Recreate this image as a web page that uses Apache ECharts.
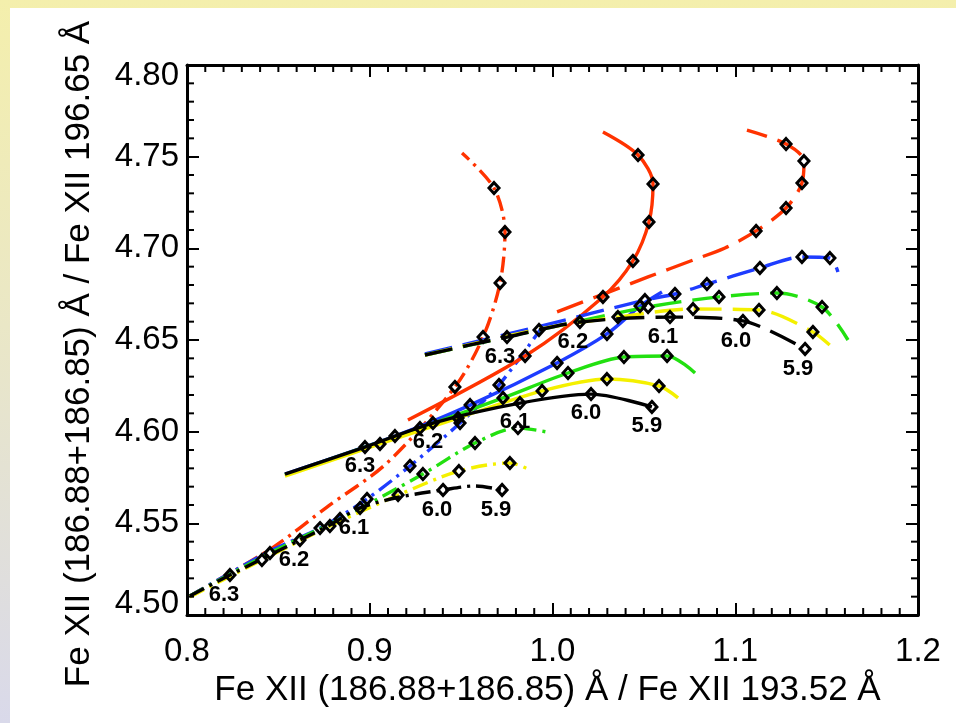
<!DOCTYPE html>
<html>
<head>
<meta charset="utf-8">
<script src="https://cdn.jsdelivr.net/npm/echarts@6/dist/echarts.min.js"></script>
<style>
  html, body { margin: 0; padding: 0; width: 956px; height: 723px; overflow: hidden; }
  body { background: linear-gradient(to bottom, #f4efac 0%, #eae7c6 45%, #d9d9ea 100%); position: relative; }
  #paper { position: absolute; left: 10px; top: 8px; right: 0; bottom: 0; background: #ffffff; }
  #chart { position: absolute; left: 0; top: 0; width: 956px; height: 723px; }
</style>
</head>
<body>
<div id="paper"></div>
<div id="chart"></div>
<script>
// Axis ranges and tick labels
const xTicks = [0.8, 0.9, 1.0, 1.1, 1.2];
const yTicks = [4.50, 4.55, 4.60, 4.65, 4.70, 4.75, 4.80];
const xMinorStep = 0.01;
const yMinorStep = 0.01;

// Temperature (log T) labels attached to the markers of the black curves
const logT = ['6.3', '6.2', '6.1', '6.0', '5.9'];

// Each point: [ratio 186/193, ratio 186/196, marker flag]
// Dash-dot family
const dashDotRed = [
  [0.8016, 4.5104, 0], [0.8465, 4.5365, 0], [0.8766, 4.5589, 0], [0.9094, 4.5829, 0],
  [0.9466, 4.6244, 1], [0.9620, 4.6516, 1], [0.9713, 4.6811, 1], [0.9740, 4.7089, 1],
  [0.9680, 4.7329, 1], [0.9505, 4.7520, 0]
];
const dashDotBlue = [
  [0.8016, 4.5104, 0], [0.8454, 4.5349, 0], [0.8728, 4.5474, 1], [0.8985, 4.5633, 1],
  [0.9220, 4.5813, 1], [0.9494, 4.6047, 1], [0.9707, 4.6255, 1], [0.9932, 4.6555, 0]
];
const dashDotGreen = [
  [0.8016, 4.5104, 0], [0.8454, 4.5338, 1], [0.8837, 4.5524, 1], [0.9291, 4.5769, 1],
  [0.9576, 4.5938, 1], [0.9811, 4.6020, 1], [0.9970, 4.5998, 0]
];
const dashDotYellow = [
  [0.8016, 4.5098, 0], [0.8410, 4.5300, 1], [0.8782, 4.5485, 1], [0.9155, 4.5654, 1],
  [0.9488, 4.5785, 1], [0.9767, 4.5829, 1], [0.9877, 4.5791, 0]
];
const dashDotBlack = [
  [0.8016, 4.5104, 0], [0.8235, 4.5218, 1], [0.8399, 4.5300, 0], [0.8618, 4.5409, 1],
  [0.8782, 4.5491, 0], [0.8947, 4.5584, 1], [0.9166, 4.5644, 0], [0.9401, 4.5682, 1],
  [0.9576, 4.5704, 0], [0.9724, 4.5682, 1]
];

// Solid family
const solidRed = [
  [0.9209, 4.6064, 0], [0.9850, 4.6413, 1], [1.0276, 4.6735, 1], [1.0440, 4.6931, 1],
  [1.0528, 4.7144, 1], [1.0550, 4.7351, 1], [1.0468, 4.7509, 1], [1.0276, 4.7635, 0]
];
const solidBlue = [
  [0.8536, 4.5769, 0], [0.9138, 4.5976, 1], [0.9549, 4.6145, 1], [1.0025, 4.6375, 1],
  [1.0298, 4.6533, 1], [1.0479, 4.6685, 1], [1.0599, 4.6762, 0]
];
const solidGreen = [
  [0.8536, 4.5764, 0], [0.9275, 4.6020, 1], [0.9729, 4.6184, 1], [1.0085, 4.6320, 1],
  [1.0391, 4.6407, 1], [1.0627, 4.6413, 1], [1.0780, 4.6320, 0]
];
const solidYellow = [
  [0.8536, 4.5758, 0], [0.9056, 4.5933, 1], [0.9483, 4.6074, 1], [0.9943, 4.6222, 1],
  [1.0298, 4.6287, 1], [1.0583, 4.6249, 1], [1.0687, 4.6184, 0]
];
const solidBlack = [
  [0.8536, 4.5769, 0], [0.8974, 4.5916, 1], [0.9346, 4.6047, 1], [0.9822, 4.6156, 1],
  [1.0211, 4.6205, 1], [1.0544, 4.6135, 1]
];

// Dashed family
const dashedRed = [
  [1.0025, 4.6653, 0], [1.0523, 4.6844, 0], [1.0769, 4.6936, 0], [1.0944, 4.7002, 0],
  [1.1114, 4.7095, 1], [1.1278, 4.7220, 1], [1.1365, 4.7356, 1], [1.1376, 4.7476, 1],
  [1.1278, 4.7569, 1], [1.1064, 4.7645, 0]
];
const dashedBlue = [
  [0.9302, 4.6424, 0], [0.9915, 4.6571, 0], [1.0506, 4.6718, 1], [1.0670, 4.6751, 1],
  [1.0845, 4.6805, 1], [1.1135, 4.6893, 1], [1.1365, 4.6953, 1], [1.1518, 4.6947, 1],
  [1.1562, 4.6871, 0]
];
const dashedGreen = [
  [0.9302, 4.6418, 0], [0.9926, 4.6555, 1], [1.0523, 4.6680, 1], [1.0911, 4.6735, 1],
  [1.1228, 4.6756, 1], [1.1475, 4.6680, 1], [1.1617, 4.6500, 0]
];
const dashedYellow = [
  [0.9302, 4.6418, 0], [0.9932, 4.6560, 0], [1.0358, 4.6625, 1], [1.0769, 4.6669, 1],
  [1.1130, 4.6664, 1], [1.1425, 4.6544, 1], [1.1546, 4.6445, 0]
];
const dashedBlack = [
  [0.9302, 4.6418, 0], [0.9549, 4.6473, 0], [0.9751, 4.6516, 1], [1.0150, 4.6598, 1],
  [1.0643, 4.6625, 1], [1.1042, 4.6604, 1], [1.1382, 4.6451, 1]
];

const COLORS = { red: '#ff3300', blue: '#1e3cff', green: '#22e010', yellow: '#f4f000', black: '#000000' };
const DASH = { dashDot: [16, 6, 3, 6], solid: 'solid', dashed: [28, 11] };
const FONT = '"Liberation Sans", Arial, Helvetica, sans-serif';
const CLEAR = 'rgba(0,0,0,0)';

const xMin = xTicks[0], xMax = xTicks[xTicks.length - 1];
const yMin = yTicks[0], yMax = yTicks[yTicks.length - 1];

const families = [
  { dash: DASH.dashDot, offset: [-6, 20], curves: [
    [dashDotRed, 'red'], [dashDotBlue, 'blue'], [dashDotGreen, 'green'], [dashDotYellow, 'yellow'], [dashDotBlack, 'black']] },
  { dash: DASH.solid, offset: [-5, 19], curves: [
    [solidRed, 'red'], [solidBlue, 'blue'], [solidGreen, 'green'], [solidYellow, 'yellow'], [solidBlack, 'black']] },
  { dash: DASH.dashed, offset: [-7, 20], curves: [
    [dashedRed, 'red'], [dashedBlue, 'blue'], [dashedGreen, 'green'], [dashedYellow, 'yellow'], [dashedBlack, 'black']] }
];

const series = [];
families.forEach(fam => {
  fam.curves.forEach(([pts, col]) => {
    series.push({
      type: 'line',
      data: pts.map(p => [p[0], p[1]]),
      smooth: 0.3,
      showSymbol: false,
      symbol: 'none',
      silent: true,
      lineStyle: { color: COLORS[col], width: 3.4, type: fam.dash, cap: 'butt', opacity: 1 },
      z: 2
    });
  });
});
families.forEach(fam => {
  fam.curves.forEach(([pts, col]) => {
    const marks = pts.filter(p => p[2] === 1).map(p => [p[0], p[1]]);
    const labelled = col === 'black';
    series.push({
      type: 'scatter',
      data: marks,
      symbol: 'diamond',
      symbolSize: [10, 11],
      silent: true,
      itemStyle: { color: CLEAR, borderColor: '#000', borderWidth: 3, opacity: 1 },
      label: labelled ? {
        show: true,
        position: 'inside',
        offset: fam.offset,
        formatter: p => logT[p.dataIndex],
        color: '#000',
        fontFamily: FONT,
        fontWeight: 'bold',
        fontSize: 22
      } : { show: false },
      z: 5
    });
  });
});

// Values of the small 0.01 ticks along the frame
const isMajor = (v, list) => list.some(t => Math.abs(t - v) < 1e-6);
const xMinorVals = [];
for (let i = 1; Math.round((xMin + i * xMinorStep) * 100) < Math.round(xMax * 100); i++) {
  const v = Math.round((xMin + i * xMinorStep) * 100) / 100;
  if (!isMajor(v, xTicks)) xMinorVals.push(v);
}
const yMinorVals = [];
for (let i = 1; Math.round((yMin + i * yMinorStep) * 100) < Math.round(yMax * 100); i++) {
  const v = Math.round((yMin + i * yMinorStep) * 100) / 100;
  if (!isMajor(v, yTicks)) yMinorVals.push(v);
}
const MINOR_LEN = 7;

// One axis per side of the frame; major ticks point inward
function frameAxis(extra) {
  return Object.assign({
    type: 'value',
    axisLine: { show: true, onZero: false, lineStyle: { color: '#000', width: 3 } },
    axisTick: { show: true, inside: true, length: 12, lineStyle: { color: '#000', width: 2 } },
    splitLine: { show: false }
  }, extra);
}

const option = {
  animation: false,
  grid: { left: 187, top: 65, width: 731, height: 550 },
  xAxis: [
    frameAxis({
      position: 'bottom', min: xMin, max: xMax, interval: 0.1,
      axisLabel: {
        show: true, margin: 20, color: '#000', fontFamily: FONT, fontSize: 33,
        showMinLabel: true, showMaxLabel: true,
        formatter: v => { const i = xTicks.findIndex(t => Math.abs(t - v) < 1e-6); return i >= 0 ? xTicks[i].toFixed(1) : ''; }
      },
      name: 'Fe XII (186.88+186.85) Å / Fe XII 193.52 Å',
      nameLocation: 'middle', nameGap: 56,
      nameTextStyle: { color: '#000', fontFamily: FONT, fontSize: 35, padding: [0, 10, 0, 0] }
    }),
    frameAxis({ position: 'top', min: xMin, max: xMax, interval: 0.1, axisLabel: { show: false } })
  ],
  yAxis: [
    frameAxis({
      position: 'left', min: yMin, max: yMax, interval: 0.05,
      axisLabel: {
        show: true, margin: 8, color: '#000', fontFamily: FONT, fontSize: 33, lineHeight: 22,
        showMinLabel: true, showMaxLabel: true,
        verticalAlignMinLabel: 'bottom', verticalAlignMaxLabel: 'top',
        formatter: v => { const i = yTicks.findIndex(t => Math.abs(t - v) < 1e-6); return i >= 0 ? yTicks[i].toFixed(2) : ''; }
      },
      name: 'Fe XII (186.88+186.85) Å / Fe XII 196.65 Å',
      nameLocation: 'middle', nameGap: 90, nameRotate: 90,
      nameTextStyle: { color: '#000', fontFamily: FONT, fontSize: 35, padding: [0, 28, 0, 0] }
    }),
    frameAxis({ position: 'right', min: yMin, max: yMax, interval: 0.05, axisLabel: { show: false } })
  ],
  series: series
};

const chart = echarts.init(document.getElementById('chart'), null, { renderer: 'canvas' });
chart.setOption(option);

// Minor ticks as graphic lines, placed through the grid's own value-to-pixel mapping
const tickGraphics = [];
function addTick(a, dx, dy) {
  tickGraphics.push({
    type: 'line', silent: true, z: 100,
    shape: { x1: a[0], y1: a[1], x2: a[0] + dx, y2: a[1] + dy },
    style: { stroke: '#000', lineWidth: 2 }
  });
}
xMinorVals.forEach(v => {
  addTick(chart.convertToPixel({ gridIndex: 0 }, [v, yMin]), 0, -MINOR_LEN);
  addTick(chart.convertToPixel({ gridIndex: 0 }, [v, yMax]), 0, MINOR_LEN);
});
yMinorVals.forEach(v => {
  addTick(chart.convertToPixel({ gridIndex: 0 }, [xMin, v]), MINOR_LEN, 0);
  addTick(chart.convertToPixel({ gridIndex: 0 }, [xMax, v]), -MINOR_LEN, 0);
});
chart.setOption({ graphic: { elements: tickGraphics } });
</script>
</body>
</html>
